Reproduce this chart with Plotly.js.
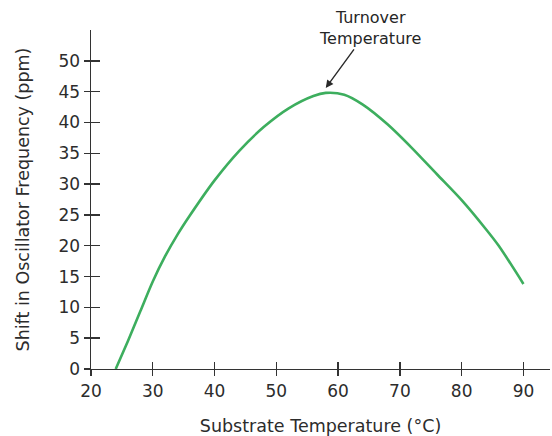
<!DOCTYPE html>
<html>
<head>
<meta charset="utf-8">
<script src="https://cdn.plot.ly/plotly-3.0.1.min.js"></script>
<style>html,body{margin:0;padding:0;background:#fff;}#chart{width:552px;height:436px;}</style>
</head>
<body>
<div id="chart"></div>
<script>
const temperature = [24, 26, 28, 30, 32, 34, 36, 40, 44, 48, 52, 56, 58, 61, 64, 68, 72, 76, 80, 84, 86, 90];
const shiftPpm = [0, 4.6, 9.4, 14.2, 18.3, 21.8, 24.9, 30.6, 35.4, 39.3, 42.3, 44.3, 44.8, 44.5, 42.9, 39.7, 35.8, 31.6, 27.4, 22.6, 20.0, 13.8];
const xTicks = [20, 30, 40, 50, 60, 70, 80, 90];
const yTicks = [0, 5, 10, 15, 20, 25, 30, 35, 40, 45, 50];
const xRange = [20, 94.3];
const yRange = [0, 55];
const turnoverX = 58, turnoverY = 45.6;

const FONT = 'DejaVu Sans, sans-serif';
const TXT = '#2c2c2c';
const AX = '#333333';

const traces = [
  {x: temperature, y: shiftPpm, type: 'scatter', mode: 'lines',
   line: {color: '#3dae5e', width: 2.6, shape: 'spline', smoothing: 0.8}, hoverinfo: 'skip'},
  {x: temperature, y: shiftPpm, xaxis: 'x2', yaxis: 'y2', type: 'scatter', mode: 'lines',
   line: {width: 0}, opacity: 0, hoverinfo: 'skip'}
];

const layout = {
  width: 552, height: 436,
  margin: {l: 91, r: 2, t: 30, b: 67},
  paper_bgcolor: '#fff', plot_bgcolor: '#fff',
  showlegend: false,
  font: {family: FONT, color: TXT, size: 17},
  xaxis: {
    range: xRange, tickvals: xTicks, ticktext: xTicks.map(String),
    ticks: 'outside', ticklen: 6, tickwidth: 1.4, tickcolor: AX,
    showline: true, linecolor: AX, linewidth: 1.4,
    showgrid: false, zeroline: false,
    tickfont: {family: FONT, size: 17, color: TXT},
    title: {text: 'Substrate Temperature (°C)', font: {family: FONT, size: 17.5, color: TXT}, standoff: 21}
  },
  yaxis: {
    range: yRange, tickvals: yTicks, ticktext: yTicks.map(String),
    ticks: 'outside', ticklen: 6, tickwidth: 1.4, tickcolor: AX,
    showline: true, linecolor: AX, linewidth: 1.4,
    showgrid: false, zeroline: false,
    tickfont: {family: FONT, size: 17, color: TXT},
    title: {text: 'Shift in Oscillator Frequency (ppm)', font: {family: FONT, size: 17.5, color: TXT}, standoff: 24}
  },
  xaxis2: {
    overlaying: 'x', range: xRange, tickvals: xTicks, showticklabels: false,
    ticks: 'inside', ticklen: 7, tickwidth: 1.4, tickcolor: AX,
    showline: false, showgrid: false, zeroline: false
  },
  yaxis2: {
    overlaying: 'y', range: yRange, tickvals: yTicks, showticklabels: false,
    ticks: 'inside', ticklen: 9, tickwidth: 1.4, tickcolor: AX,
    showline: false, showgrid: false, zeroline: false
  },
  annotations: [{
    x: turnoverX, y: turnoverY, xref: 'x', yref: 'y',
    text: 'Turnover<br>Temperature', showarrow: true,
    ax: 44, ay: -60, arrowhead: 2, arrowsize: 1.1, arrowwidth: 1.4, arrowcolor: '#2a2a2a',
    font: {family: FONT, size: 16, color: '#262626'}, align: 'center'
  }]
};

Plotly.newPlot('chart', traces, layout, {staticPlot: true, displayModeBar: false});
</script>
</body>
</html>
